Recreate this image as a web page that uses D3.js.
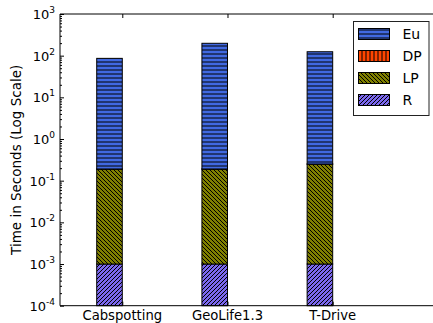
<!DOCTYPE html>
<html><head><meta charset="utf-8">
<script src="https://cdn.jsdelivr.net/npm/d3@7"></script>
<style>body{margin:0;background:#fff}svg{display:block;font-family:"DejaVu Sans",sans-serif}</style>
</head><body>
<svg id="c" width="433" height="323"></svg>
<script>
const categories = ["Cabspotting","GeoLife1.3","T-Drive"];
const seriesNames = ["R","LP","DP","Eu"];
const R  = [0.001, 0.001, 0.001];
const LP = [0.189, 0.189, 0.249];
const DP = [0.001, 0.001, 0.001];
const Eu = [86, 198, 124];
const yTickExps = [-4,-3,-2,-1,0,1,2,3];
const legendOrder = ["Eu","DP","LP","R"];

const colors = {R:"#7b68ee", LP:"#808000", DP:"#ff4500", Eu:"#4169e1"};
const hatch = {R:"/", LP:"\\", DP:"|", Eu:"-"};

const svg = d3.select("#c");
const L=60, T=14, B=305.7;
const y = d3.scaleLog().domain([1e-4,1e3]).range([B,T]);
const x = d3.scaleLinear().domain([0.408, 4.0]).range([L, 437.9]);
const barW = 0.243;

// patterns
const defs = svg.append("defs");
function mkPattern(name){
  const s=4;
  const p = defs.append("pattern").attr("id","h"+name).attr("patternUnits","userSpaceOnUse")
    .attr("width",s).attr("height",s);
  p.append("rect").attr("width",s).attr("height",s).attr("fill",colors[name]);
  let d;
  const h=hatch[name];
  if(h==="-") d=`M0,${s/2} H${s}`;
  else if(h==="|") d=`M${s/2},0 V${s}`;
  else if(h==="/") d=`M-1,1 L1,-1 M0,${s} L${s},0 M${s-1},${s+1} L${s+1},${s-1}`;
  else d=`M-1,${s-1} L1,${s+1} M0,0 L${s},${s} M${s-1},-1 L${s+1},1`;
  p.append("path").attr("d",d).attr("stroke","#000").attr("stroke-width",1).attr("fill","none");
}
seriesNames.forEach(mkPattern);

// stacked bars
const vals = {R, LP, DP, Eu};
categories.forEach((c,i)=>{
  let base = 1e-4, cum = 0;
  seriesNames.forEach(s=>{
    cum += vals[s][i];
    const top = cum;
    svg.append("rect")
      .attr("x", x(i+1-barW)).attr("width", x(i+1)-x(i+1-barW))
      .attr("y", y(top)).attr("height", y(base)-y(top))
      .attr("fill", `url(#h${s})`).attr("stroke","#000").attr("stroke-width",1);
    base = top;
  });
});

// axes frame
const g = svg.append("g");
g.append("line").attr("x1",L).attr("x2",433).attr("y1",T).attr("y2",T).attr("stroke","#000");
g.append("line").attr("x1",L).attr("x2",433).attr("y1",B).attr("y2",B).attr("stroke","#000");
g.append("line").attr("x1",L).attr("x2",L).attr("y1",T).attr("y2",B).attr("stroke","#000");

// y ticks (inward)
const yAxis = d3.axisLeft(y).tickSizeInner(-4).tickSizeOuter(0).tickValues(yTickExps.map(e=>Math.pow(10,e))).tickFormat("");
const ya = svg.append("g").attr("transform",`translate(${L},0)`).call(yAxis);
ya.select(".domain").remove();
const minor=[];
for(let e=-4;e<3;e++) for(let k=2;k<10;k++) minor.push(k*Math.pow(10,e));
const yMinor = d3.axisLeft(y).tickSizeInner(-2).tickSizeOuter(0).tickValues(minor).tickFormat("");
const ym = svg.append("g").attr("transform",`translate(${L},0)`).call(yMinor);
ym.select(".domain").remove();
// y tick labels with superscript
yTickExps.forEach(e=>{
  const t = svg.append("text").attr("x", L-5).attr("y", y(Math.pow(10,e))+5)
    .attr("text-anchor","end").attr("font-size",13).attr("fill","#000");
  t.append("tspan").text("10");
  t.append("tspan").attr("font-size",9).attr("dy",-6).text(String(e));
});

// x ticks top & bottom inward
const xt = categories.map((c,i)=>i+1);
const xb = d3.axisBottom(x).tickValues(xt).tickSizeInner(-4).tickSizeOuter(0).tickFormat("");
const xba = svg.append("g").attr("transform",`translate(0,${B})`).call(xb); xba.select(".domain").remove();
const xtA = d3.axisTop(x).tickValues(xt).tickSizeInner(-4).tickSizeOuter(0).tickFormat("");
const xta = svg.append("g").attr("transform",`translate(0,${T})`).call(xtA); xta.select(".domain").remove();
categories.forEach((c,i)=>{
  svg.append("text").attr("x",x(i+1)).attr("y",B+14.5).attr("text-anchor","middle")
    .attr("font-size",13.2).text(c);
});

// y label
svg.append("text").attr("transform",`translate(20.5,${(T+B)/2}) rotate(-90)`)
  .attr("text-anchor","middle").attr("font-size",13.5).text("Time in Seconds (Log Scale)");

// legend
const lg = svg.append("g");
lg.append("rect").attr("x",353.5).attr("y",21.5).attr("width",75.5).attr("height",94)
  .attr("fill","#fff").attr("stroke","#222").attr("stroke-width",1);
legendOrder.forEach((s,k)=>{
  const cy = 34 + k*22;
  lg.append("rect").attr("x",358.5).attr("y",cy-5.5).attr("width",31).attr("height",11)
    .attr("fill",`url(#h${s})`).attr("stroke","#000").attr("stroke-width",1);
  lg.append("text").attr("x",402.5).attr("y",cy+5).attr("font-size",14).text(s);
});
</script>
</body></html>
